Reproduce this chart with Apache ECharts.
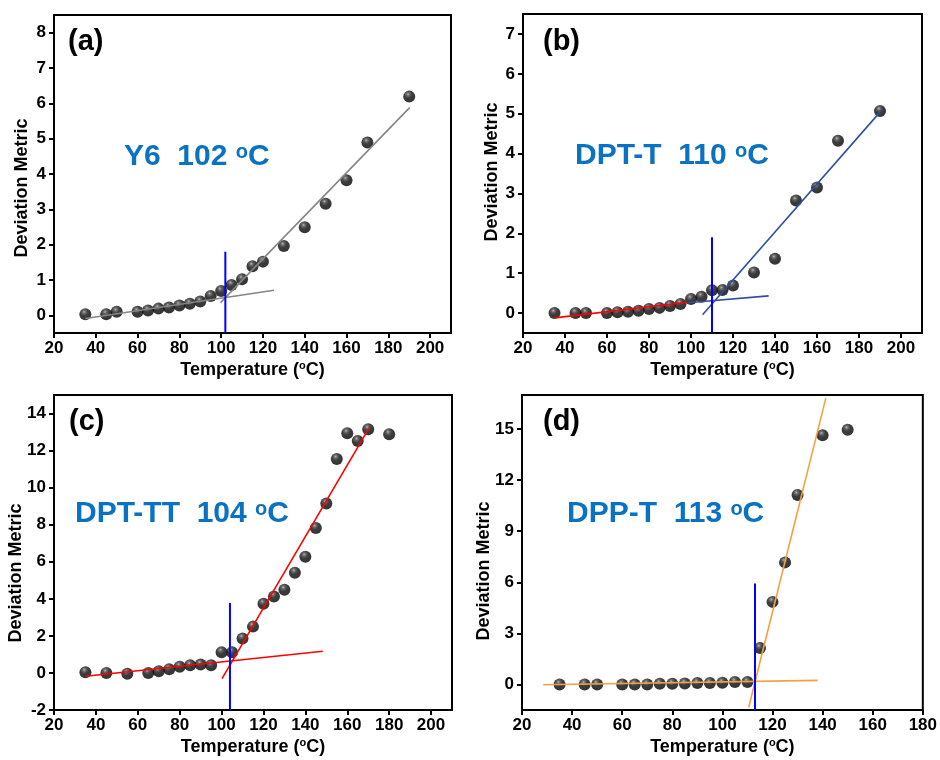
<!DOCTYPE html>
<html>
<head>
<meta charset="utf-8">
<script src="https://cdn.jsdelivr.net/npm/echarts@6/dist/echarts.min.js"></script>
<style>
  html, body { margin: 0; padding: 0; background: #fff; }
  #chart { width: 940px; height: 760px; }
</style>
</head>
<body>
<div id="chart"></div>
<script>
// ---- Measured deviation metric vs. annealing temperature (°C) ----
const tempsA  = [35, 45, 50, 60, 65, 70, 75, 80, 85, 90, 95, 100, 105, 110, 115, 120, 130, 140, 150, 160, 170, 190];
const valuesA = [0.03, 0.03, 0.10, 0.10, 0.14, 0.19, 0.22, 0.28, 0.33, 0.39, 0.55, 0.69, 0.86, 1.02, 1.39, 1.52, 1.96, 2.49, 3.16, 3.82, 4.89, 6.19];

const tempsB  = [35, 45, 50, 60, 65, 70, 75, 80, 85, 90, 95, 100, 105, 110, 115, 120, 130, 140, 150, 160, 170, 190];
const valuesB = [0.00, 0.00, 0.00, 0.00, 0.02, 0.03, 0.06, 0.10, 0.13, 0.18, 0.23, 0.35, 0.41, 0.57, 0.58, 0.69, 1.02, 1.36, 2.82, 3.15, 4.32, 5.07];

const tempsC  = [35, 45, 55, 65, 70, 75, 80, 85, 90, 95, 100, 105, 110, 115, 120, 125, 130, 135, 140, 145, 150, 155, 160, 165, 170, 180];
const valuesC = [0.04, 0.00, -0.04, 0.00, 0.09, 0.20, 0.34, 0.41, 0.45, 0.41, 1.12, 1.12, 1.86, 2.50, 3.73, 4.13, 4.49, 5.41, 6.27, 7.82, 9.14, 11.55, 12.94, 12.52, 13.15, 12.88];

const tempsD  = [35, 45, 50, 60, 65, 70, 75, 80, 85, 90, 95, 100, 105, 110, 115, 120, 125, 130, 140, 150];
const valuesD = [0.00, 0.00, 0.00, 0.00, 0.00, 0.00, 0.04, 0.04, 0.06, 0.08, 0.08, 0.10, 0.14, 0.14, 2.14, 4.85, 7.17, 11.13, 14.63, 14.96];

// ---- Linear fits below / above the transition: [T, value] end points ----
const fitLowA  = [[35, -0.09], [125.3, 0.71]];
const fitHighA = [[99.7, 0.36], [190.2, 5.88]];

const fitLowB1 = [[35, -0.12], [98.5, 0.27]];
const fitLowB2 = [[98.5, 0.26], [137, 0.43]];
const fitHighB = [[105.5, -0.04], [190.5, 5.07]];

const fitLowC  = [[35, -0.18], [148.3, 1.17]];
const fitHighC = [[100.2, -0.31], [170.3, 13.2]];

const fitLowD  = [[28.5, -0.02], [138, 0.24]];
const fitHighD = [[110.5, -1.34], [141.3, 16.83]];

// ---- Transition temperatures and the top of each marker line ----
const materials = ['Y6', 'DPT-T', 'DPT-TT', 'DPP-T'];
const panelTags = ['(a)', '(b)', '(c)', '(d)'];
const tgValues  = [102, 110, 104, 113];
const tgTops    = [1.8, 1.9, 3.78, 5.93];

// ---- Axis tick values ----
const xTicksWide   = [20, 40, 60, 80, 100, 120, 140, 160, 180, 200];
const xTicksNarrow = [20, 40, 60, 80, 100, 120, 140, 160, 180];
const yTicksA = [0, 1, 2, 3, 4, 5, 6, 7, 8];
const yTicksB = [0, 1, 2, 3, 4, 5, 6, 7];
const yTicksC = [-2, 0, 2, 4, 6, 8, 10, 12, 14];
const yTicksD = [0, 3, 6, 9, 12, 15];

// ---------------------------------------------------------------
const FONT = '"Liberation Sans", Arial, Helvetica, sans-serif';
const BLUE_TEXT = '#0A72C2';

const panels = [
  { grid: { left: 54,  top: 15,  width: 397, height: 318 }, x: [20, 210], xt: xTicksWide,   y: [-0.5, 8.5], yt: yTicksA,
    temps: tempsA, values: valuesA, fits: [[fitLowA, '#858585'], [fitHighA, '#858585']],
    tag: [68, 42], label: [124, 157], ytitle: [22, 188] },
  { grid: { left: 523, top: 14,  width: 399, height: 319 }, x: [20, 210], xt: xTicksWide,   y: [-0.5, 7.5], yt: yTicksB,
    temps: tempsB, values: valuesB, fits: [[fitLowB2, '#2E4FA0'], [fitLowB1, '#FF0000'], [fitHighB, '#2E4FA0']],
    tag: [543, 42], label: [575, 156], ytitle: [492, 172] },
  { grid: { left: 54,  top: 395, width: 398, height: 315 }, x: [20, 210], xt: xTicksWide,   y: [-2, 15],    yt: yTicksC,
    temps: tempsC, values: valuesC, fits: [[fitLowC, '#FF0000'], [fitHighC, '#FF0000']],
    tag: [69, 422], label: [75, 514], ytitle: [16, 573] },
  { grid: { left: 522, top: 395, width: 403, height: 315 }, x: [20, 180], xt: xTicksNarrow, y: [-1.5, 17],  yt: yTicksD,
    temps: tempsD, values: valuesD, fits: [[fitLowD, '#F2A145'], [fitHighD, '#F2A145']],
    tag: [543, 422], label: [567, 514], ytitle: [484, 571] }
];

// glossy black bead
const sphere = {
  type: 'radial', x: 0.4, y: 0.3, r: 0.75,
  colorStops: [
    { offset: 0, color: '#a8a8a8' },
    { offset: 0.18, color: '#444' },
    { offset: 0.45, color: '#0c0c0c' },
    { offset: 1, color: '#000' }
  ]
};

const axisLabelStyle = { color: '#000', fontSize: 17, fontWeight: 'bold', fontFamily: FONT };
const supRich = { s: { fontSize: 11, fontWeight: 'bold', fontFamily: FONT, color: '#000', verticalAlign: 'top', lineHeight: 11 } };

const grids = [], xAxes = [], yAxes = [], series = [], graphics = [];

panels.forEach((p, i) => {
  grids.push(Object.assign({ show: true, borderColor: '#000', borderWidth: 2, backgroundColor: 'transparent' }, p.grid));

  xAxes.push({
    type: 'value', gridIndex: i, min: p.x[0], max: p.x[1],
    axisLine: { show: true, onZero: false, lineStyle: { color: '#000', width: 2 } },
    axisTick: { show: true, inside: false, length: 5, lineStyle: { color: '#000', width: 2 }, customValues: p.xt },
    axisLabel: Object.assign({ margin: 7, customValues: p.xt }, axisLabelStyle),
    splitLine: { show: false },
    name: 'Temperature ({s|o}C)', nameLocation: 'middle', nameGap: 27,
    nameTextStyle: { color: '#000', fontSize: 18, fontWeight: 'bold', fontFamily: FONT, lineHeight: 20, rich: supRich }
  });

  yAxes.push({
    type: 'value', gridIndex: i, min: p.y[0], max: p.y[1],
    axisLine: { show: true, onZero: false, lineStyle: { color: '#000', width: 2 } },
    axisTick: { show: true, inside: false, length: 5, lineStyle: { color: '#000', width: 2 }, customValues: p.yt },
    axisLabel: Object.assign({ margin: 8, customValues: p.yt }, axisLabelStyle),
    splitLine: { show: false }
  });

  // data points
  series.push({
    type: 'scatter', xAxisIndex: i, yAxisIndex: i, z: 2,
    symbol: 'circle', symbolSize: 12,
    itemStyle: { color: sphere },
    data: p.temps.map((t, k) => [t, p.values[k]])
  });

  // linear fits
  p.fits.forEach(([pts, color]) => {
    series.push({
      type: 'line', xAxisIndex: i, yAxisIndex: i, z: 3,
      symbol: 'none', silent: true,
      lineStyle: { color: color, width: 1.6 },
      data: pts
    });
  });

  // transition marker
  series.push({
    type: 'line', xAxisIndex: i, yAxisIndex: i, z: 4,
    symbol: 'none', silent: true,
    lineStyle: { color: '#0000FF', width: 2 },
    data: [[tgValues[i], p.y[0]], [tgValues[i], tgTops[i]]]
  });

  // panel tag
  graphics.push({
    type: 'text', x: p.tag[0], y: p.tag[1], z: 10,
    style: { text: panelTags[i], fill: '#000', fontSize: 29, fontWeight: 'bold', fontFamily: FONT,
             textAlign: 'left', textVerticalAlign: 'middle' }
  });

  // material and transition temperature
  graphics.push({
    type: 'text', x: p.label[0], y: p.label[1], z: 10,
    style: {
      text: materials[i] + '  ' + tgValues[i] + ' {s|o}C',
      fill: BLUE_TEXT, fontSize: 30, fontWeight: 'bold', fontFamily: FONT,
      textAlign: 'left', textVerticalAlign: 'middle', lineHeight: 30,
      rich: { s: { fill: BLUE_TEXT, fontSize: 20, fontWeight: 'bold', fontFamily: FONT, verticalAlign: 'top', lineHeight: 18 } }
    }
  });

  // y-axis title
  graphics.push({
    type: 'text', x: p.ytitle[0], y: p.ytitle[1], rotation: Math.PI / 2, z: 10,
    style: { text: 'Deviation Metric', fill: '#000', fontSize: 18, fontWeight: 'bold', fontFamily: FONT,
             textAlign: 'center', textVerticalAlign: 'middle' }
  });
});

const chart = echarts.init(document.getElementById('chart'), null, { renderer: 'canvas' });
chart.setOption({
  animation: false,
  backgroundColor: '#fff',
  grid: grids,
  xAxis: xAxes,
  yAxis: yAxes,
  series: series,
  graphic: graphics
});
</script>
</body>
</html>
